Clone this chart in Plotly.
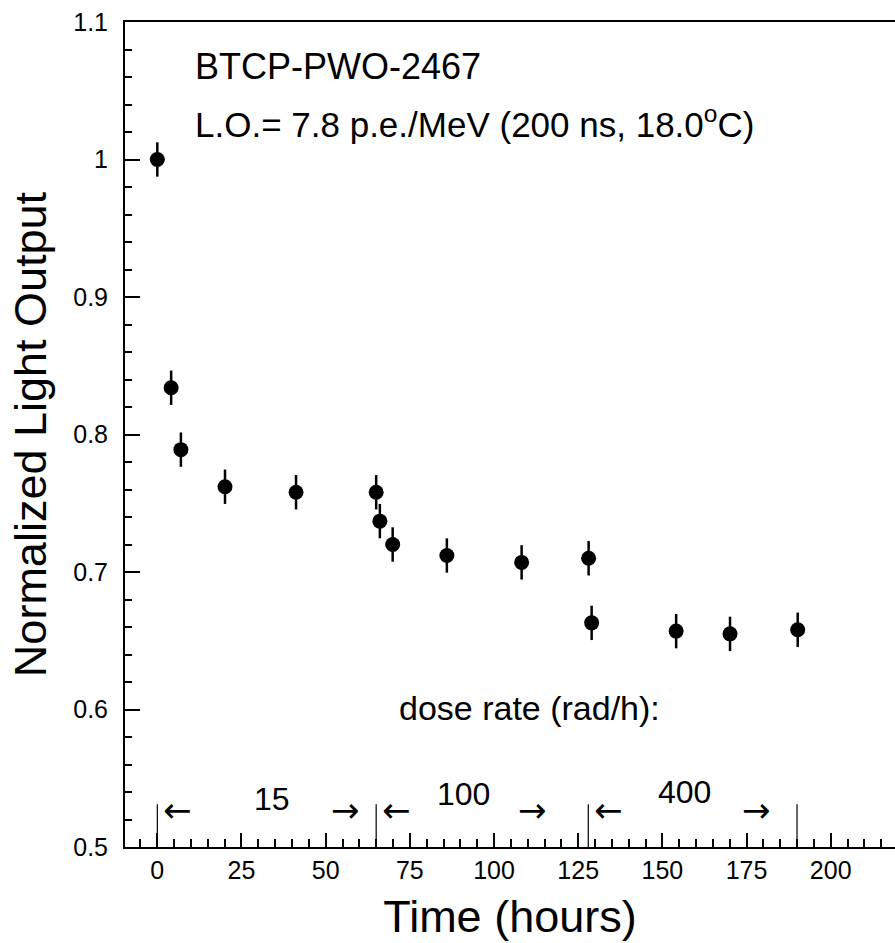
import plotly.graph_objects as go

# Data
time_h = [0, 4.1, 7.0, 20.1, 41.2, 65.0, 66.1, 69.9, 86.0, 108.2, 128.1, 129.0, 154.1, 170.1, 190.2]
light_out = [1.000, 0.834, 0.789, 0.762, 0.758, 0.758, 0.737, 0.720, 0.712, 0.707, 0.710, 0.663, 0.657, 0.655, 0.658]
light_err = [0.0125] * len(time_h)

dose_bounds = [0, 65, 128, 190]
dose_rates = ["15", "100", "400"]
dose_label_x = [34.1, 90.8, 156.7]
dose_label_y = [0.5347, 0.5383, 0.5397]
left_arrow_x = [5.9, 70.9, 133.9]
right_arrow_x = [56.0, 111.3, 178.1]

x_ticks = [0, 25, 50, 75, 100, 125, 150, 175, 200]
y_ticks = [0.5, 0.6, 0.7, 0.8, 0.9, 1.0, 1.1]
y_ticklabels = ["0.5", "0.6", "0.7", "0.8", "0.9", "1", "1.1"]

FONT = "Liberation Sans, Arial, Helvetica, sans-serif"

fig = go.Figure()
fig.add_trace(go.Scatter(
    x=time_h, y=light_out,
    mode="markers",
    marker=dict(color="black", size=15),
    error_y=dict(type="data", array=light_err, visible=True, color="black", thickness=2.5, width=0),
    showlegend=False,
))

# dose-rate boundary markers
for xb in dose_bounds:
    fig.add_shape(type="line", xref="x", yref="y", x0=xb, x1=xb, y0=0.5, y1=0.531,
                  line=dict(color="black", width=1.2))

annotations = []
for lbl, lx, ly in zip(dose_rates, dose_label_x, dose_label_y):
    annotations.append(dict(x=lx, y=ly, xref="x", yref="y", text=lbl, showarrow=False,
                            font=dict(size=32, color="black", family=FONT)))
for ax_ in left_arrow_x:
    annotations.append(dict(x=ax_, y=0.5266, xref="x", yref="y", text="←", showarrow=False,
                            font=dict(size=34, color="black", family="DejaVu Sans")))
for ax_ in right_arrow_x:
    annotations.append(dict(x=ax_, y=0.5266, xref="x", yref="y", text="→", showarrow=False,
                            font=dict(size=34, color="black", family="DejaVu Sans")))

annotations.append(dict(x=110.4, y=0.601, xref="x", yref="y", text="dose rate (rad/h):", showarrow=False,
                        font=dict(size=34, color="black", family=FONT)))
annotations.append(dict(x=10.6, y=1.0675, xref="x", yref="y", text="BTCP-PWO-2467", showarrow=False,
                        xanchor="left", font=dict(size=36, color="black", family=FONT)))
annotations.append(dict(x=10.6, y=1.0275, xref="x", yref="y",
                        text="L.O.= 7.8 p.e./MeV (200 ns, 18.0<sup>o</sup>C)", showarrow=False,
                        xanchor="left", font=dict(size=35, color="black", family=FONT)))

fig.update_layout(
    width=895, height=943,
    margin=dict(l=125, r=0, t=22, b=96),
    paper_bgcolor="white", plot_bgcolor="white",
    font=dict(family=FONT, color="black"),
    annotations=annotations,
    xaxis=dict(
        range=[-9.6, 219.1],
        tickvals=x_ticks,
        ticks="inside", ticklen=14, tickwidth=1.5, tickcolor="black",
        minor=dict(dtick=5, ticks="inside", ticklen=8, tickwidth=1.5, tickcolor="black", showgrid=False),
        showline=True, linecolor="black", linewidth=2, mirror=True,
        showgrid=False, zeroline=False,
        tickfont=dict(size=25, family=FONT, color="black"),
        title=dict(text="Time (hours)", font=dict(size=45, family=FONT, color="black"), standoff=17),
    ),
    yaxis=dict(
        range=[0.5, 1.1],
        tickvals=y_ticks, ticktext=y_ticklabels,
        ticks="inside", ticklen=15, tickwidth=1.5, tickcolor="black",
        minor=dict(dtick=0.02, ticks="inside", ticklen=7, tickwidth=1.5, tickcolor="black", showgrid=False),
        showline=True, linecolor="black", linewidth=2,
        showgrid=False, zeroline=False,
        tickfont=dict(size=25, family=FONT, color="black"),
        ticklabelstandoff=10,
        title=dict(text="Normalized Light Output", font=dict(size=45, family=FONT, color="black"), standoff=12),
    ),
)

fig.write_html("out.html")
